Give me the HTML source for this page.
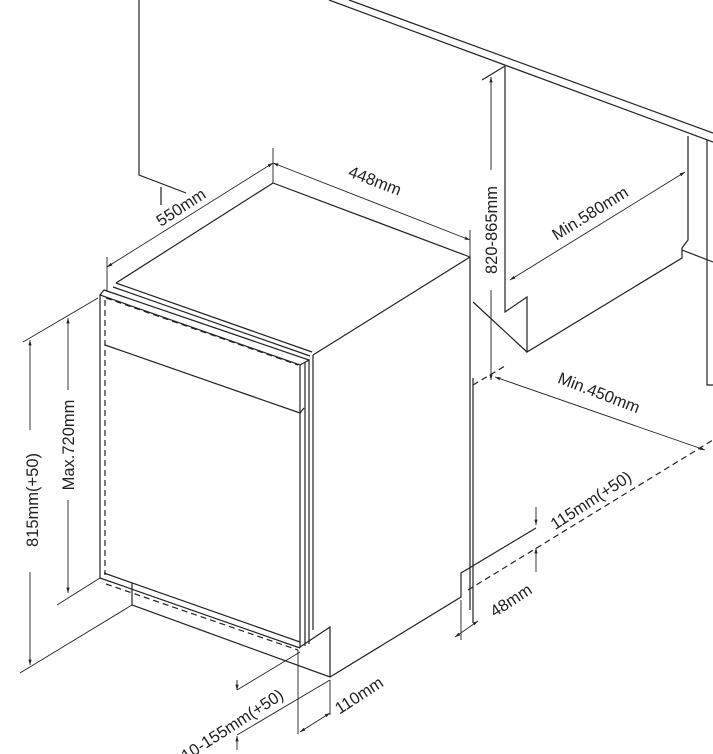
<!DOCTYPE html>
<html><head><meta charset="utf-8"><style>
html,body{margin:0;padding:0;background:#fff;}
svg{display:block;}
text{font-family:"Liberation Sans",sans-serif;font-size:16.5px;fill:#222;}
</style></head><body>
<svg width="713" height="754" viewBox="0 0 713 754" xmlns="http://www.w3.org/2000/svg">
<defs>
<marker id="a" viewBox="0 0 10 10" refX="10" refY="5" markerWidth="6" markerHeight="6" orient="auto-start-reverse"><path d="M0,2 L10,5 L0,8 z" fill="#222"/></marker>
</defs>
<g stroke="#222" stroke-width="1.2" fill="none">
<!-- upper left cabinet -->
<path d="M139,0 V175 L186,193"/>
<path d="M161,187 V205"/>
<!-- countertop right -->
<path d="M349,0 L713,133"/>
<path d="M329,0 L713,142"/>
<path d="M505,66 V312 L527,297 V352 L682,258 V248 L688,240 V136"/>
<path d="M473,302 L527,352"/>
<path d="M682,250 L713,262"/>
<path d="M707,140 V385 H713"/>
<path d="M482,80 L505,66"/>
<!-- dishwasher top -->
<path d="M116,283 L273,183 L470,257 L313,355"/>
<path d="M116,283 L312,352"/>
<path d="M113,287 L310,356"/>
<!-- side -->
<path d="M470,257 V610"/>
<path d="M473,378 V623"/>
<path d="M313,355 V630"/>
<!-- door -->
<path d="M100,295 L104,290 L309,360 L300,365 Z"/>
<path d="M100,295 V578"/>
<path d="M300,365 V648"/>
<path d="M305,362 V646"/>
<path d="M309,360 V644"/>
<path d="M105,345 L300,413 L304,408"/>
<path d="M100,578 L300,648"/>
<path d="M104,573 L300,642"/>
<!-- plinth -->
<path d="M132,583 V605 L330,677 V627 L300,647"/>
<path d="M330,677 L461,597 V573 L536,528"/>
</g>
<g stroke="#222" stroke-width="1.2" fill="none" stroke-dasharray="6,4">
<path d="M105,300 V575"/>
<path d="M106,298 L298,365"/>
<path d="M106,584 L298,650"/>
<path d="M468,590 L713,440"/>
<path d="M473,385 L505,366"/>
</g>
<!-- dimension lines -->
<g stroke="#222" stroke-width="0.9" fill="none">
<path d="M107,257 V292"/><path d="M273,148 V183"/><path d="M470,230 V256"/>
<path d="M107,267 L273,163" marker-start="url(#a)" marker-end="url(#a)"/>
<path d="M273,163 L470,240" marker-start="url(#a)" marker-end="url(#a)"/>
<path d="M23,342 L98,298"/><path d="M20,673 L132,605"/>
<path d="M30,340 V665" marker-start="url(#a)" marker-end="url(#a)"/>
<path d="M57,605 L100,578"/>
<path d="M68,318 V593" marker-start="url(#a)" marker-end="url(#a)"/>
<path d="M491,77 V380" marker-start="url(#a)" marker-end="url(#a)"/>
<path d="M510,280 L685,172" marker-start="url(#a)" marker-end="url(#a)"/>
<path d="M495,377 L705,450" marker-start="url(#a)" marker-end="url(#a)"/>
<path d="M536,507 V525" marker-end="url(#a)"/><path d="M536,572 V548" marker-end="url(#a)"/>
<path d="M461,600 V640"/><path d="M455,637 L478,621" marker-start="url(#a)" marker-end="url(#a)"/>
<path d="M237,690 L300,652"/><path d="M237,735 L330,680"/>
<path d="M237,680 V690" marker-end="url(#a)"/><path d="M237,750 V736" marker-end="url(#a)"/>
<path d="M298,650 V734"/><path d="M330,680 V715"/>
<path d="M300,732 L330,713" marker-start="url(#a)" marker-end="url(#a)"/>
</g>
<g>
<rect x="23" y="430" width="16" height="142" fill="#fff"/>
<rect x="60" y="390" width="16" height="110" fill="#fff"/>
<rect x="483" y="170" width="16" height="120" fill="#fff"/>
<text transform="translate(38,500) rotate(-90)" text-anchor="middle">815mm(+50)</text>
<text transform="translate(74,445) rotate(-90)" text-anchor="middle">Max.720mm</text>
<text transform="translate(497,230) rotate(-90)" text-anchor="middle">820-865mm</text>
<text transform="translate(184,212) rotate(-33)" text-anchor="middle">550mm</text>
<text transform="translate(373,186) rotate(21)" text-anchor="middle">448mm</text>
<text transform="translate(593,218) rotate(-32)" text-anchor="middle">Min.580mm</text>
<text transform="translate(597,398) rotate(21)" text-anchor="middle">Min.450mm</text>
<text transform="translate(594,505) rotate(-33)" text-anchor="middle">115mm(+50)</text>
<text transform="translate(514,605) rotate(-33)" text-anchor="middle">48mm</text>
<text transform="translate(362,700) rotate(-33)" text-anchor="middle">110mm</text>
<text transform="translate(232,732) rotate(-33)" text-anchor="middle">110-155mm(+50)</text>
</g>
</svg>
</body></html>
